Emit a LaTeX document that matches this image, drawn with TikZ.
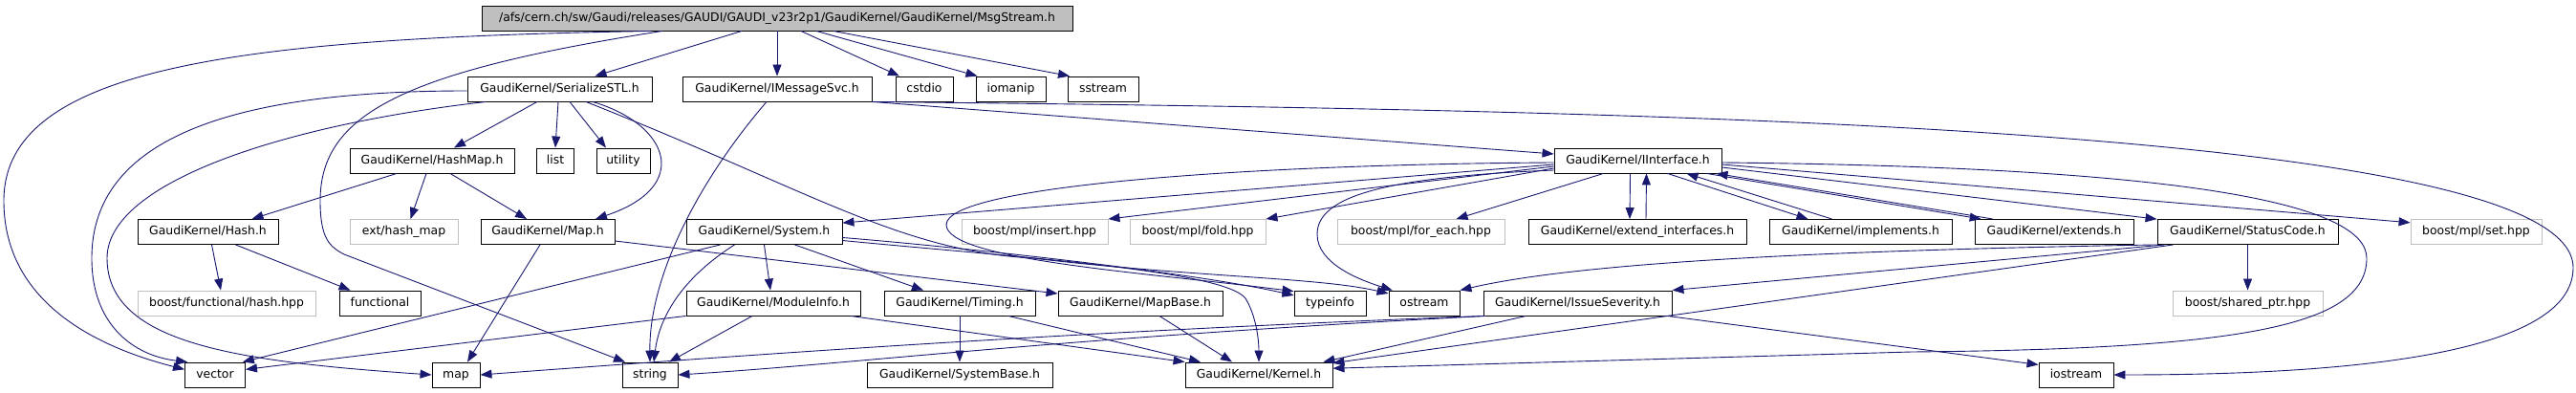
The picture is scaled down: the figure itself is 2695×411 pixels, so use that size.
\documentclass[tikz,border=0pt]{standalone}
\usepackage{fontspec}
\setmainfont{DejaVu Sans}
\usetikzlibrary{arrows.meta}
\definecolor{edgeblue}{HTML}{191970}
\definecolor{offgray}{HTML}{BFBFBF}
\begin{document}
\begin{tikzpicture}[x=1pt, y=-1pt, font=\fontsize{12.4}{14}\selectfont,
			hfile/.style={draw=black, line width=0.9pt, fill=white, minimum height=26pt, inner sep=0pt, text height=9.4pt, text depth=2.9pt},
			sysh/.style={hfile, draw=offgray},
			roof/.style={hfile, fill=offgray},
			inc/.style={draw=edgeblue, line width=0.9pt, -{Triangle[length=12pt,width=9pt]}}]
			\useasboundingbox (0,0) rectangle (2695,411);
			% files, one row per rank
			\node[roof, minimum width=618pt] (root) at (813,19) {/afs/cern.ch/sw/Gaudi/releases/GAUDI/GAUDI\_v23r2p1/GaudiKernel/GaudiKernel/MsgStream.h};
			
			\node[hfile, minimum width=193pt] (ser) at (585.5,93) {GaudiKernel/SerializeSTL.h};
			\node[hfile, minimum width=198pt] (imsg) at (813,93) {GaudiKernel/IMessageSvc.h};
			\node[hfile, minimum width=60pt] (cstdio) at (967,93) {cstdio};
			\node[hfile, minimum width=73pt] (iomanip) at (1057.5,93) {iomanip};
			\node[hfile, minimum width=74pt] (sstream) at (1154,93) {sstream};
			
			\node[hfile, minimum width=172pt] (hashmap) at (452,168) {GaudiKernel/HashMap.h};
			\node[hfile, minimum width=39pt] (list) at (581,168) {list};
			\node[hfile, minimum width=56pt] (utility) at (652,168) {utility};
			\node[hfile, minimum width=175pt] (iif) at (1713.5,168) {GaudiKernel/IInterface.h};
			
			\node[hfile, minimum width=147pt] (hash) at (217.5,242.5) {GaudiKernel/Hash.h};
			\node[sysh, minimum width=113pt] (exthash) at (422.5,242.5) {ext/hash\_map};
			\node[hfile, minimum width=140pt] (maph) at (573,242.5) {GaudiKernel/Map.h};
			\node[hfile, minimum width=163pt] (system) at (799.5,242.5) {GaudiKernel/System.h};
			\node[sysh, minimum width=153pt] (insert) at (1082.5,242.5) {boost/mpl/insert.hpp};
			\node[sysh, minimum width=142pt] (fold) at (1253,242.5) {boost/mpl/fold.hpp};
			\node[sysh, minimum width=175pt] (foreach) at (1486.5,242.5) {boost/mpl/for\_each.hpp};
			\node[hfile, minimum width=228pt] (extif) at (1713,242.5) {GaudiKernel/extend\_interfaces.h};
			\node[hfile, minimum width=191pt] (impl) at (1946.5,242.5) {GaudiKernel/implements.h};
			\node[hfile, minimum width=166pt] (extends) at (2149,242.5) {GaudiKernel/extends.h};
			\node[hfile, minimum width=189pt] (status) at (2351.5,242.5) {GaudiKernel/StatusCode.h};
			\node[sysh, minimum width=137pt] (mplset) at (2590.5,242.5) {boost/mpl/set.hpp};
			
			\node[sysh, minimum width=186pt] (boosthash) at (237,317) {boost/functional/hash.hpp};
			\node[hfile, minimum width=85pt] (functional) at (397.5,317) {functional};
			\node[hfile, minimum width=182pt] (modinfo) at (809,317) {GaudiKernel/ModuleInfo.h};
			\node[hfile, minimum width=158pt] (timing) at (1004,317) {GaudiKernel/Timing.h};
			\node[hfile, minimum width=172pt] (mapbase) at (1193,317) {GaudiKernel/MapBase.h};
			\node[hfile, minimum width=75pt] (typeinfo) at (1391.5,317) {typeinfo};
			\node[hfile, minimum width=74pt] (ostream) at (1490,317) {ostream};
			\node[hfile, minimum width=197pt] (issue) at (1650.5,317) {GaudiKernel/IssueSeverity.h};
			\node[sysh, minimum width=157pt] (sharedptr) at (2351.5,317) {boost/shared\_ptr.hpp};
			
			\node[hfile, minimum width=63pt] (vector) at (225,392) {vector};
			\node[hfile, minimum width=50pt] (map) at (477,392) {map};
			\node[hfile, minimum width=58pt] (string) at (680,392) {string};
			\node[hfile, minimum width=194pt] (sysbase) at (1004,392) {GaudiKernel/SystemBase.h};
			\node[hfile, minimum width=154pt] (kernel) at (1317,392) {GaudiKernel/Kernel.h};
			\node[hfile, minimum width=78pt] (iostream) at (2172,392) {iostream};
			
			% MsgStream.h
			\draw[inc] ([xshift=-132pt]root.south) .. controls (250,40) and (4,70) .. (4,210) .. controls (4,310) and (90,360) .. (vector.170);
			\draw[inc] ([xshift=-120pt]root.south) .. controls (420,75) and (335,120) .. (335,210) .. controls (335,250) and (345,258) .. (360,266) -- ([xshift=-26pt]string.north);
			\draw[inc] ([xshift=-37pt]root.south) -- ([xshift=37pt]ser.north);
			\draw[inc] (root.south) -- (imsg.north);
			\draw[inc] ([xshift=25pt]root.south) -- ([xshift=-26pt]cstdio.north);
			\draw[inc] ([xshift=41pt]root.south) -- ([xshift=-35pt]iomanip.north);
			\draw[inc] ([xshift=59pt]root.south) -- ([xshift=-35pt]sstream.north);
			
			% IMessageSvc.h
			\draw[inc] (imsg.south east) -- ([yshift=7pt]iif.west);
			\draw[inc] ([xshift=-11pt]imsg.south) .. controls (730,190) and (679,290) .. (string.north);
			\draw[inc] (imsg.south east) .. controls (1700,115) and (2692,130) .. (2692,280) .. controls (2692,372) and (2450,392) .. (iostream.east);
			
			% SerializeSTL.h
			\draw[inc] ([yshift=-2pt]ser.west) .. controls (280,95) and (96,130) .. (96,270) .. controls (96,340) and (140,372) .. (vector.155);
			\draw[inc] ([xshift=-77pt]ser.south) .. controls (300,130) and (112,190) .. (112,270) .. controls (112,360) and (250,378) .. (map.west);
			\draw[inc] ([xshift=-23.5pt]ser.south) -- ([xshift=23pt]hashmap.north);
			\draw[inc] ([xshift=-1.5pt]ser.south) -- (list.north);
			\draw[inc] ([xshift=10.5pt]ser.south) -- ([xshift=-18pt]utility.north);
			\draw[inc] ([xshift=34.5pt]ser.south) .. controls (700,130) and (725,195) .. ([xshift=50pt]maph.north);
			\draw[inc] ([xshift=27.5pt]ser.south) .. controls (850,200) and (940,262) .. (1080,270) .. controls (1250,290) and (1380,290) .. (ostream.165);
			
			% HashMap.h, Hash.h, Map.h
			\draw[inc] ([xshift=-37pt]hashmap.south) -- ([xshift=46pt]hash.north);
			\draw[inc] ([xshift=-6pt]hashmap.south) -- ([xshift=7pt]exthash.north);
			\draw[inc] ([xshift=19pt]hashmap.south) -- ([xshift=-22pt]maph.north);
			\draw[inc] ([xshift=4pt]hash.south) -- ([xshift=-6pt]boosthash.north);
			\draw[inc] ([xshift=29pt]hash.south) -- ([xshift=-31pt]functional.north);
			\draw[inc] ([xshift=-8pt]maph.south) -- ([xshift=12pt]map.north);
			\draw[inc] ([yshift=-9.5pt]maph.east) -- ([yshift=10pt]mapbase.west);
			
			% IInterface.h
			\draw[inc] ([yshift=-4pt]iif.west) -- ([yshift=-4pt]system.north east);
			\draw[inc] ([yshift=-6pt]iif.west) -- (insert.north east);
			\draw[inc] ([yshift=-8pt]iif.west) -- (fold.north east);
			\draw[inc] ([xshift=-36pt]iif.south) -- ([xshift=37pt]foreach.north);
			\draw[inc] ([yshift=-2pt]iif.west) .. controls (1300,172) and (990,195) .. (990,235) .. controls (990,272) and (1200,285) .. (typeinfo.162);
			\draw[inc] ([yshift=-10pt]iif.west) .. controls (1450,185) and (1378,205) .. (1378,245) .. controls (1378,275) and (1420,292) .. (ostream.158);
			\draw[inc] ([xshift=-8pt]iif.south) -- ([xshift=-8pt]extif.north);
			\draw[inc] ([xshift=31pt]iif.south) -- ([xshift=-55pt]impl.north);
			\draw[inc] ([xshift=72pt]iif.south) -- (extends.170);
			\draw[inc] ([yshift=-7pt]iif.east) -- (status.172);
			\draw[inc] ([yshift=-4pt]iif.east) -- (mplset.172);
			\draw[inc] ([yshift=-2pt]iif.east) .. controls (2300,175) and (2476,215) .. (2476,270) .. controls (2476,340) and (2350,365) .. (2000,368) -- (kernel.5);
			% and back again
			\draw[inc] ([xshift=9pt]extif.north) -- ([xshift=9pt]iif.south);
			\draw[inc] ([xshift=-30pt]impl.north) -- ([xshift=51pt]iif.south);
			\draw[inc] ([xshift=-64pt]extends.north) -- ([xshift=82pt]iif.south);
			
			% System.h
			\draw[inc] ([xshift=-46pt]system.south) -- (vector.25);
			\draw[inc] ([xshift=-31pt]system.south) .. controls (715,290) and (690,330) .. ([xshift=4pt]string.north);
			\draw[inc] (system.south) -- ([xshift=-3pt]modinfo.north);
			\draw[inc] ([xshift=32pt]system.south) -- ([xshift=-38pt]timing.north);
			\draw[inc] ([yshift=-6pt]system.east) .. controls (1000,258) and (1250,285) .. (typeinfo.168);
			\draw[inc] ([yshift=-9pt]system.east) .. controls (1050,268) and (1280,282) .. (1303,312) .. controls (1314,330) and (1317,355) .. (kernel.north);
			
			% ModuleInfo.h, Timing.h, MapBase.h
			\draw[inc] (modinfo.south west) -- (vector.10);
			\draw[inc] ([xshift=-22pt]modinfo.south) -- ([xshift=20pt]string.north);
			\draw[inc] ([xshift=81pt]modinfo.south) -- (kernel.north west);
			\draw[inc] (timing.south) -- (sysbase.north);
			\draw[inc] ([xshift=51pt]timing.south) -- ([xshift=-61pt]kernel.north);
			\draw[inc] ([xshift=20pt]mapbase.south) -- ([xshift=-28pt]kernel.north);
			
			% StatusCode.h
			\draw[inc] (status.south west) .. controls (1900,262) and (1650,275) .. (ostream.north east);
			\draw[inc] ([xshift=8pt]status.south west) -- (issue.north east);
			\draw[inc] ([xshift=17pt]status.south west) -- (kernel.9);
			\draw[inc] (status.south) -- (sharedptr.north);
			
			% IssueSeverity.h
			\draw[inc] ([xshift=-54pt]issue.south) -- ([xshift=-10pt]kernel.north east);
			\draw[inc] ([xshift=94pt]issue.south) -- (iostream.165);
			\draw[inc] (issue.south west) .. controls (1100,348) and (800,370) .. (map.east);
			\draw[inc] ([xshift=3pt]issue.south west) .. controls (1100,354) and (900,380) .. (string.east);
		\end{tikzpicture}
\end{document}
